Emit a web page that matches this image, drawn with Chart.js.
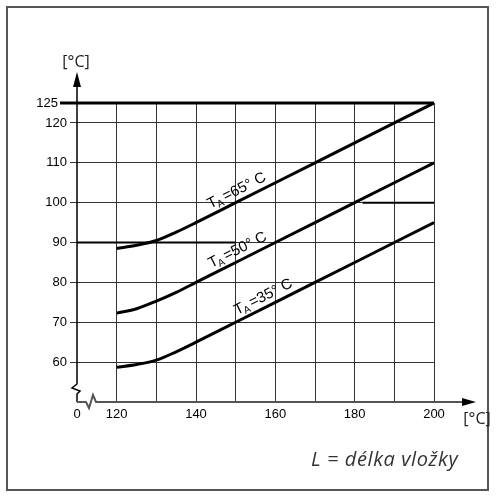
<!DOCTYPE html>
<html><head><meta charset="utf-8">
<script src="https://cdn.jsdelivr.net/npm/chart.js@4/dist/chart.umd.min.js"></script>
<style>html,body{margin:0;padding:0;background:#fff;} #wrap{position:relative;width:496px;height:498px;}</style>
</head><body><div id="wrap"><canvas id="c"></canvas></div>
<script>
const xValues = [120,125,130,135,140,150,160,170,180,190,200];
const seriesTA65 = [88.5,89.3,90.5,92.6,95,100,105,110,115,120,125];
const seriesTA50 = [72.3,73.4,75.3,77.5,80,85,90,95,100,105,110];
const seriesTA35 = [58.7,59.4,60.5,62.6,65,70,75,80,85,90,95];
const seriesNames = ['65','50','35'];
const xTickValues = [110,120,130,140,150,160,170,180,190,200];
const xTickLabels = ['0','120','','140','','160','','180','','200'];
const yTickValues = [50,60,70,80,90,100,110,120,125];
const yTickLabels = ['','60','70','80','90','100','110','120','125'];
const limitValue = 125;
const ref90X = [110,150], ref90Y = [90,90];
const ref100X = [182,200], ref100Y = [100,100];
const axisUnit = '[°C]';
const footnote = 'L = délka vložky';

const toPts = (xs, ys) => xs.map((x,i)=>({x, y: ys[i]}));
const tickFont = {family:'"Liberation Sans", Arial, sans-serif', size:13};
const allSeries = [seriesTA65, seriesTA50, seriesTA35];

const curveDs = allSeries.map((s,i)=>({
  label: 'TA=' + seriesNames[i] + '°C',
  data: toPts(xValues, s),
  borderColor:'#000', borderWidth:3, pointRadius:0, fill:false,
  cubicInterpolationMode:'monotone'
}));

const extras = {
  id:'extras',
  afterDraw(chart){
    const {ctx, chartArea:a, scales:{x:xs, y:ys}} = chart;
    const X = v=>xs.getPixelForValue(v), Y = v=>ys.getPixelForValue(v);
    const ox = a.left, oy = a.bottom;
    ctx.save();
    // frame
    ctx.strokeStyle='#555'; ctx.lineWidth=2;
    ctx.strokeRect(7,7,481,483);
    // y axis with break
    ctx.strokeStyle='#000'; ctx.lineWidth=1.5; ctx.lineJoin='miter';
    ctx.beginPath();
    ctx.moveTo(ox, 84); ctx.lineTo(ox, 384);
    ctx.lineTo(ox-5, 388); ctx.lineTo(ox+3, 391); ctx.lineTo(ox, 394); ctx.lineTo(ox, oy);
    ctx.stroke();
    ctx.fillStyle='#000';
    ctx.beginPath(); ctx.moveTo(ox,72); ctx.lineTo(ox-4,87); ctx.lineTo(ox+4,87); ctx.closePath(); ctx.fill();
    // x axis with break
    ctx.strokeStyle='#555'; ctx.lineWidth=2;
    ctx.beginPath();
    ctx.moveTo(ox, oy); ctx.lineTo(ox+9, oy); ctx.lineTo(ox+12, oy+6); ctx.lineTo(ox+16, oy-7); ctx.lineTo(ox+19, oy);
    ctx.lineTo(463, oy);
    ctx.stroke();
    ctx.fillStyle='#000';
    ctx.beginPath(); ctx.moveTo(476,oy); ctx.lineTo(462,oy-4); ctx.lineTo(462,oy+4); ctx.closePath(); ctx.fill();
    // limit line 125
    ctx.strokeStyle='#000'; ctx.lineWidth=3;
    ctx.beginPath(); ctx.moveTo(60, Y(limitValue)); ctx.lineTo(X(200), Y(limitValue)); ctx.stroke();
    ctx.font = '13px "Liberation Sans", Arial, sans-serif';
    ctx.textAlign='right'; ctx.textBaseline='middle'; ctx.fillStyle='#000';
    ctx.fillText(String(limitValue), 58, Y(limitValue));
    // curve labels
    const ang = Math.atan2(Y(125)-Y(115), X(200)-X(180));
    const starts = [144.3, 144.5, 151.0];
    allSeries.forEach((s,i)=>{
      const x0 = starts[i];
      let k = 0; while (k < xValues.length-2 && xValues[k+1] < x0) k++;
      const t = (x0 - xValues[k])/(xValues[k+1]-xValues[k]);
      const y0 = s[k] + t*(s[k+1]-s[k]);
      ctx.save();
      ctx.translate(X(x0), Y(y0)); ctx.rotate(ang);
      ctx.textAlign='left'; ctx.textBaseline='alphabetic'; ctx.fillStyle='#000';
      ctx.font='15px "Liberation Sans", Arial, sans-serif';
      let cx = 0; const by = -6;
      ctx.fillText('T', cx, by); cx += ctx.measureText('T').width - 1;
      ctx.font='10px "Liberation Sans", Arial, sans-serif';
      ctx.fillText('A', cx, by+3); cx += ctx.measureText('A').width + 2;
      ctx.font='15px "Liberation Sans", Arial, sans-serif';
      ctx.fillText('=' + seriesNames[i] + '° C', cx, by);
      ctx.restore();
    });
    // axis unit labels
    ctx.font='16px "Open Sans", sans-serif'; ctx.fillStyle='#222';
    ctx.textAlign='center'; ctx.textBaseline='alphabetic';
    ctx.fillText(axisUnit, 76, 67);
    ctx.fillText(axisUnit, 477, 424);
    // footnote
    ctx.font='italic 20px "Open Sans", sans-serif'; ctx.fillStyle='#333';
    ctx.textAlign='left';
    try { ctx.letterSpacing = '0.6px'; } catch(e) {}
    ctx.fillText(footnote, 311, 466);
    ctx.restore();
  }
};

new Chart(document.getElementById('c'), {
  type:'line',
  data:{ datasets:[
    ...curveDs,
    {label:'ref90', data: toPts(ref90X, ref90Y), borderColor:'#000', borderWidth:2, pointRadius:0},
    {label:'ref100', data: toPts(ref100X, ref100Y), borderColor:'#000', borderWidth:2, pointRadius:0}
  ]},
  options:{
    animation:false, responsive:true, maintainAspectRatio:false,
    layout:{padding:{left:0, right:62, top:103, bottom:66}},
    plugins:{legend:{display:false}, tooltip:{enabled:false}},
    scales:{
      x:{
        type:'linear', min:110, max:200,
        afterBuildTicks: s => { s.ticks = xTickValues.map(v=>({value:v})); },
        afterFit: s => { s.height = 30; },
        ticks:{autoSkip:false, maxRotation:0, minRotation:0, padding:5, font:tickFont, color:'#000',
          callback:(v,i)=> xTickLabels[i]},
        grid:{color: c => (c.tick && c.tick.value===110) ? 'rgba(0,0,0,0)' : '#333', lineWidth:1, drawTicks:false},
        border:{display:false}
      },
      y:{
        type:'linear', min:50, max:125,
        afterBuildTicks: s => { s.ticks = yTickValues.map(v=>({value:v})); },
        afterFit: s => { s.width = 77; },
        ticks:{autoSkip:false, padding:3, font:tickFont, color:'#000',
          callback:(v,i)=> yTickValues[i]===limitValue ? '' : yTickLabels[i]},
        grid:{color: c => (c.tick && c.tick.value===50) ? 'rgba(0,0,0,0)' : '#333', lineWidth:1, drawTicks:true, tickLength:7},
        border:{display:false}
      }
    }
  },
  plugins:[extras]
});
</script>
</body></html>
